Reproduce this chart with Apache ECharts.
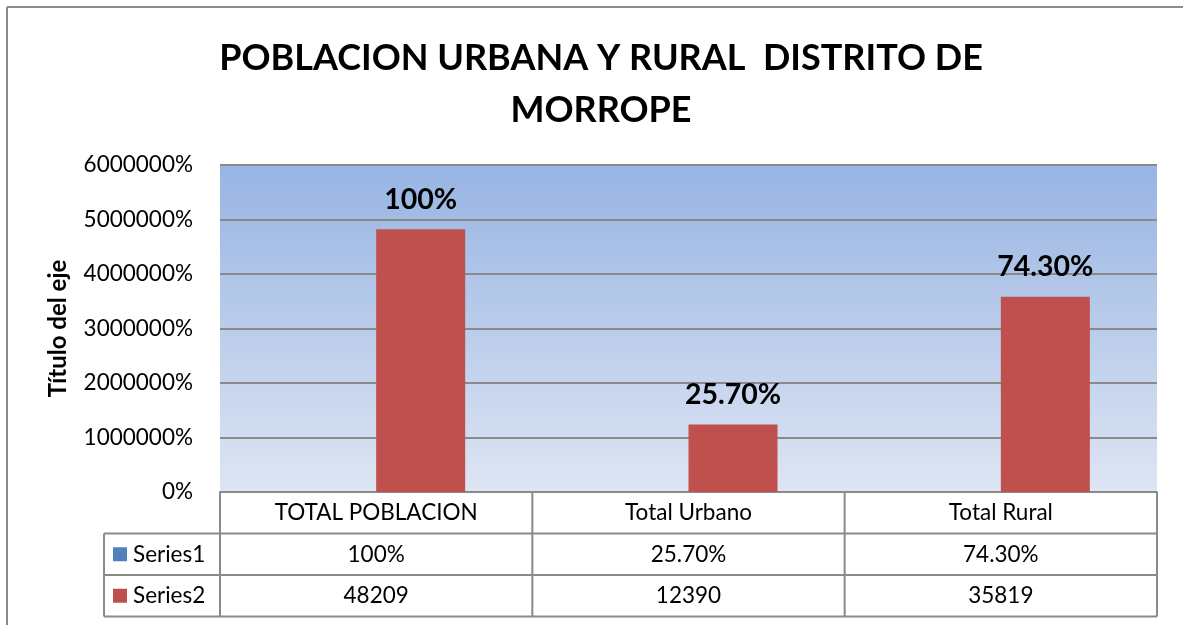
<!DOCTYPE html>
<html>
<head>
<meta charset="utf-8">
<script src="https://cdn.jsdelivr.net/npm/echarts@6/dist/echarts.min.js"></script>
<style>
html,body{margin:0;padding:0;background:#fff;}
#chart{width:1183px;height:625px;}
</style>
</head>
<body>
<div id="chart"></div>
<script>
// ---- data ----
var categories = ['TOTAL POBLACION', 'Total Urbano', 'Total Rural'];
var series1Name = 'Series1';
var series2Name = 'Series2';
var series1 = [1, 0.257, 0.743];
var series2 = [48209, 12390, 35819];
var titleText = 'POBLACION URBANA Y RURAL  DISTRITO DE\nMORROPE';
var yAxisName = 'Título del eje';

// ---- layout ----
var FONT = 'Lato, "Liberation Sans", sans-serif';
var W = 1183, H = 625;
var gridLeft = 220, gridRight = 26, gridTop = 165, gridBottom = 133;
var plotRight = W - gridRight;
var plotBottom = H - gridBottom;
var rowH = 41.5;
var legendLeft = 104;
var gridColor = '#8a8a8a';
var tableFont = 22.5;

function fmtPct(v) {
  if (Math.abs(v - 1) < 1e-9) return '100%';
  return (v * 100).toFixed(2) + '%';
}

var chart = echarts.init(document.getElementById('chart'), null, {renderer: 'canvas'});

function buildTable() {
  var g = [];
  var colW = (plotRight - gridLeft) / categories.length;
  var yHeadBottom = plotBottom + rowH;
  var yRow1Bottom = yHeadBottom + rowH;
  var yRow2Bottom = yRow1Bottom + rowH;
  var ls = {stroke: gridColor, lineWidth: 2};
  [yHeadBottom, yRow1Bottom, yRow2Bottom].forEach(function (y) {
    g.push({type: 'line', shape: {x1: legendLeft, y1: y, x2: plotRight, y2: y}, style: ls, z: 10});
  });
  for (var i = 0; i <= categories.length; i++) {
    var x = gridLeft + i * colW;
    g.push({type: 'line', shape: {x1: x, y1: plotBottom, x2: x, y2: yRow2Bottom}, style: ls, z: 10});
  }
  g.push({type: 'line', shape: {x1: legendLeft, y1: yHeadBottom, x2: legendLeft, y2: yRow2Bottom}, style: ls, z: 10});
  var rows = [
    {name: series1Name, color: '#4F81BD', vals: series1.map(fmtPct), y: yHeadBottom},
    {name: series2Name, color: '#C0504D', vals: series2.map(String), y: yRow1Bottom}
  ];
  rows.forEach(function (r) {
    var cy = r.y + rowH / 2;
    g.push({type: 'rect', shape: {x: legendLeft + 9, y: cy - 7, width: 14, height: 14}, style: {fill: r.color}, z: 10});
    g.push({type: 'text', x: legendLeft + 29, y: cy, style: {text: r.name, font: tableFont + 'px ' + FONT, fill: '#000', textVerticalAlign: 'middle', verticalAlign: 'middle'}, z: 10});
    r.vals.forEach(function (t, i) {
      g.push({type: 'text', x: gridLeft + (i + 0.5) * colW, y: cy, style: {text: t, font: tableFont + 'px ' + FONT, fill: '#000', align: 'center', textAlign: 'center', verticalAlign: 'middle', textVerticalAlign: 'middle'}, z: 10});
    });
  });
  g.push({type: 'line', shape: {x1: 7, y1: 7, x2: W + 5, y2: 7}, style: {stroke: '#8c8c8c', lineWidth: 2}, z: 10});
  g.push({type: 'line', shape: {x1: 7, y1: 7, x2: 7, y2: H + 5}, style: {stroke: '#8c8c8c', lineWidth: 2}, z: 10});
  return g;
}

var option = {
  backgroundColor: '#fff',
  animation: false,
  title: {
    text: titleText,
    left: 596, textAlign: 'center',
    top: 27,
    textStyle: {fontFamily: FONT, fontSize: 36, fontWeight: 'bold', color: '#000', lineHeight: 52}
  },
  grid: {
    left: gridLeft, right: gridRight, top: gridTop, bottom: gridBottom,
    show: true,
    borderWidth: 0,
    backgroundColor: new echarts.graphic.LinearGradient(0, 0, 0, 1, [
      {offset: 0, color: '#97B4E3'},
      {offset: 1, color: '#DEE5F3'}
    ])
  },
  xAxis: {
    type: 'category',
    data: categories,
    axisLine: {show: true, lineStyle: {color: gridColor, width: 2}},
    axisTick: {show: false},
    axisLabel: {color: '#000', fontFamily: FONT, fontSize: tableFont, margin: 9}
  },
  yAxis: {
    type: 'value',
    min: 0, max: 60000, interval: 10000,
    name: yAxisName,
    nameLocation: 'middle',
    nameRotate: 90,
    nameGap: 150,
    nameTextStyle: {fontFamily: FONT, fontSize: 24, fontWeight: 'bold', color: '#000'},
    axisLine: {show: false},
    axisTick: {show: false},
    axisLabel: {
      color: '#000', fontFamily: FONT, fontSize: 22.5, margin: 27,
      formatter: function (v) { return Math.round(v * 100) + '%'; }
    },
    splitLine: {show: true, lineStyle: {color: gridColor, width: 2}}
  },
  series: [
    {
      name: series1Name, type: 'bar', data: series1,
      itemStyle: {color: '#4F81BD'},
      barGap: '0%', barCategoryGap: '43%'
    },
    {
      name: series2Name, type: 'bar', data: series2,
      itemStyle: {color: '#C0504D'},
      barGap: '0%', barCategoryGap: '43%',
      label: {
        show: true, position: 'top', distance: 15,
        fontFamily: FONT, fontSize: 28.5, fontWeight: 'bold', color: '#000',
        formatter: function (p) { return fmtPct(series1[p.dataIndex]); }
      }
    }
  ],
  graphic: buildTable()
};
chart.setOption(option);
</script>
</body>
</html>
